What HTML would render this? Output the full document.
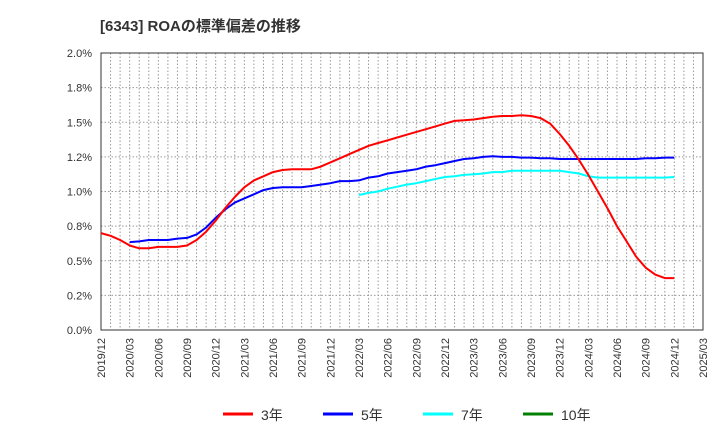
<!DOCTYPE html>
<html><head><meta charset="utf-8"><style>
body{margin:0;background:#fff;font-family:"Liberation Sans","Noto Sans CJK JP",sans-serif;}
</style></head><body>
<svg id="c" width="720" height="440" xmlns="http://www.w3.org/2000/svg">
<text x="100" y="31" font-size="15" font-weight="bold" fill="#333">[6343]  ROAの標準偏差の推移</text>
</svg>
<script>
const yTicks=[0,0.25,0.5,0.75,1.0,1.25,1.5,1.75,2.0];
const yTickLabels=["0.0%","0.2%","0.5%","0.8%","1.0%","1.2%","1.5%","1.8%","2.0%"];
const xTickLabels=["2019/12","2020/03","2020/06","2020/09","2020/12","2021/03","2021/06","2021/09","2021/12","2022/03","2022/06","2022/09","2022/12","2023/03","2023/06","2023/09","2023/12","2024/03","2024/06","2024/09","2024/12","2025/03"];
const s3=[0.70,0.68,0.65,0.61,0.59,0.59,0.60,0.60,0.60,0.61,0.65,0.71,0.79,0.88,0.96,1.03,1.08,1.11,1.14,1.155,1.16,1.16,1.16,1.18,1.21,1.24,1.27,1.30,1.33,1.35,1.37,1.39,1.41,1.43,1.45,1.47,1.49,1.51,1.515,1.52,1.53,1.54,1.545,1.545,1.55,1.545,1.53,1.49,1.415,1.33,1.23,1.12,1.00,0.88,0.75,0.64,0.53,0.45,0.40,0.375,0.375];
const s5=[null,null,null,0.635,0.64,0.65,0.65,0.65,0.66,0.665,0.69,0.74,0.81,0.87,0.92,0.95,0.98,1.01,1.025,1.03,1.03,1.03,1.04,1.05,1.06,1.075,1.075,1.08,1.10,1.11,1.13,1.14,1.15,1.16,1.18,1.19,1.205,1.22,1.235,1.24,1.25,1.255,1.25,1.25,1.245,1.245,1.24,1.24,1.235,1.235,1.235,1.235,1.235,1.235,1.235,1.235,1.235,1.24,1.24,1.245,1.245];
const s7=[null,null,null,null,null,null,null,null,null,null,null,null,null,null,null,null,null,null,null,null,null,null,null,null,null,null,null,0.975,0.99,1.00,1.02,1.035,1.05,1.06,1.075,1.09,1.105,1.11,1.12,1.125,1.13,1.14,1.14,1.15,1.15,1.15,1.15,1.15,1.15,1.14,1.13,1.11,1.10,1.10,1.10,1.10,1.10,1.10,1.10,1.10,1.105];
const s10=[];
const X0=101,X1=703,Y0=330,Y1=53,NM=63;
const xs=i=>X0+(X1-X0)*i/NM;
const ys=v=>Y0-(Y0-Y1)*v/2;
const svg=document.getElementById('c');const NS="http://www.w3.org/2000/svg";
function mk(t,a,p){const e=document.createElementNS(NS,t);for(const k in a)e.setAttribute(k,a[k]);(p||svg).appendChild(e);return e;}
for(let i=1;i<NM;i++){const l=mk('line',{x1:xs(i),x2:xs(i),y1:Y1,y2:Y0,stroke:'#999','stroke-dasharray':'1.5,2','stroke-width':1});
}
yTicks.forEach((v,i)=>{if(i>0){const l=mk('line',{x1:X0,x2:X1,y1:ys(v),y2:ys(v),stroke:'#999','stroke-dasharray':'1.5,2'});
}
const t=mk('text',{x:92,y:ys(v)+4,'text-anchor':'end','font-size':11,fill:'#333'});t.textContent=yTickLabels[i];
});
const fr=mk('rect',{x:X0,y:Y1,width:X1-X0,height:Y0-Y1,fill:'none',stroke:'#333','stroke-width':1});

xTickLabels.forEach((s,i)=>{const x=xs(i*3);const t=mk('text',{x:0,y:0,transform:`translate(${x+4},${Y0+8}) rotate(-90)`,'text-anchor':'end','font-size':11,fill:'#333'});t.textContent=s;
});
function series(arr,col,name){let d='';let pen=false;arr.forEach((v,i)=>{if(v==null){pen=false;return;}d+=(pen?'L':'M')+xs(i).toFixed(1)+','+ys(v).toFixed(1);pen=true;});
if(!d)return;const p=mk('path',{d:d,fill:'none',stroke:col,'stroke-width':2,'stroke-linejoin':'round'});
}
series(s7,'#00ffff','series-7y');series(s5,'#0000ff','series-5y');series(s3,'#ff0000','series-3y');series(s10,'#008000','series-10y');
const leg=[['3年','#ff0000',223],['5年','#0000ff',323],['7年','#00ffff',423],['10年','#008000',523]];
leg.forEach(([t,c,x])=>{const g=mk('g',{});
mk('line',{x1:x,x2:x+30,y1:414,y2:414,stroke:c,'stroke-width':3},g);
const tx=mk('text',{x:x+38,y:420,'font-size':14,fill:'#333'},g);tx.textContent=t;});
</script>
</body></html>
